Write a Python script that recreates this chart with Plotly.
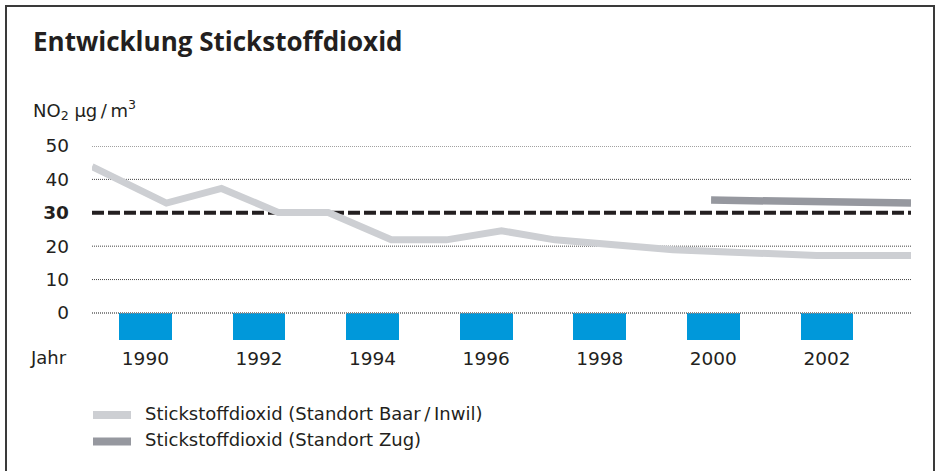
import plotly.graph_objects as go

# ---------------- data ----------------
baar_years = [1989.06, 1990.37, 1991.34, 1992.34, 1993.22, 1994.33, 1995.30,
              1996.27, 1997.21, 1999.29, 2001.82, 2003.48]
baar_values = [43.8, 32.9, 37.3, 30.1, 30.1, 21.9, 21.9, 24.6, 21.9, 18.9, 17.2, 17.2]

zug_years = [1999.96, 2001.58, 2003.48]
zug_values = [33.8, 33.3, 32.9]

limit_years = [1989.06, 2003.48]
limit_values = [30, 30]

marker_years = [1990, 1992, 1994, 1996, 1998, 2000, 2002]
marker_depth = [-8.1, -8.1, -8.1, -8.1, -8.1, -8.1, -8.1]

y_ticks = [0, 10, 20, 30, 40, 50]
y_ticktext = ["0", "10", "20", "<b>30</b>", "40", "50"]
grid_values = [10, 20, 40, 50]

title_text = "Entwicklung Stickstoffdioxid"
unit_text = "NO<sub>2</sub> µg\u2009/\u2009m<sup>3</sup>"
xaxis_label = "Jahr"
legend_names = ["Stickstoffdioxid (Standort Baar\u2009/\u2009Inwil)", "Stickstoffdioxid (Standort Zug)"]

# ---------------- style ----------------
W, H = 939, 471
L, R, T, B = 92, 911, 146, 340
FONT = "DejaVu Sans"
TFONT = "Open Sans"
TXT = "#231f20"
C_BAAR = "#cdcfd3"
C_ZUG = "#96989f"
C_BLUE = "#0098da"


def px(x):
    return (x - L) / (R - L)


def py(y):
    return (B - y) / (B - T)


fig = go.Figure()

fig.add_trace(go.Bar(x=marker_years, y=marker_depth, base=0, width=0.93,
                     marker=dict(color=C_BLUE, line=dict(width=0)),
                     showlegend=False, hoverinfo="skip"))

fig.add_trace(go.Scatter(x=limit_years, y=limit_values, mode="lines",
                         line=dict(color=TXT, width=4, dash="12px,4px"),
                         showlegend=False, hoverinfo="skip"))

fig.add_trace(go.Scatter(x=baar_years, y=baar_values, mode="lines",
                         line=dict(color=C_BAAR, width=7),
                         name=legend_names[0], showlegend=False))

fig.add_trace(go.Scatter(x=zug_years, y=zug_values, mode="lines",
                         line=dict(color=C_ZUG, width=7.5),
                         name=legend_names[1], showlegend=False))

shapes = []
for g in grid_values:
    shapes.append(dict(type="line", xref="paper", x0=0, x1=1, yref="y", y0=g, y1=g,
                       line=dict(color="#444444", width=1, dash="1px,1px"), layer="below"))
shapes.append(dict(type="line", xref="paper", x0=0, x1=1, yref="y", y0=0, y1=0,
                   line=dict(color="#8a8a8a", width=2, dash="1px,1px"), layer="above"))
# outer frame
shapes.append(dict(type="rect", xref="paper", yref="paper",
                   x0=px(6), x1=px(934), y0=py(480), y1=py(6),
                   line=dict(color="#3a3a3a", width=2), fillcolor="rgba(0,0,0,0)",
                   layer="below"))
# legend swatches
for i, c in enumerate([C_BAAR, C_ZUG]):
    yy = 415 + i * 26.5
    shapes.append(dict(type="line", xref="paper", yref="paper",
                       x0=px(93), x1=px(131), y0=py(yy), y1=py(yy),
                       line=dict(color=c, width=8)))

annotations = [
    dict(text="<b>" + title_text + "</b>", xref="paper", yref="paper",
         x=px(31), y=py(41), xanchor="left", yanchor="middle", showarrow=False,
         font=dict(family=TFONT, size=26, color=TXT, weight=800)),
    dict(text=unit_text, xref="paper", yref="paper",
         x=px(31), y=py(110), xanchor="left", yanchor="middle", showarrow=False,
         font=dict(family=FONT, size=18, color=TXT)),
    dict(text=xaxis_label, xref="paper", yref="paper",
         x=px(69), y=py(357), xanchor="right", yanchor="middle", showarrow=False,
         font=dict(family=FONT, size=18, color=TXT)),
]
for i, name in enumerate(legend_names):
    yy = 413 + i * 26.5
    annotations.append(dict(text=name, xref="paper", yref="paper",
                            x=px(143), y=py(yy), xanchor="left", yanchor="middle",
                            showarrow=False, font=dict(family=FONT, size=18, color=TXT)))

fig.update_layout(
    width=W, height=H,
    margin=dict(l=L, r=W - R, t=T, b=H - B, pad=0),
    paper_bgcolor="white", plot_bgcolor="white",
    font=dict(family=FONT, color=TXT),
    showlegend=False,
    bargap=0,
    shapes=shapes,
    annotations=annotations,
    xaxis=dict(range=[1989.06, 2003.48], tickvals=marker_years,
               showgrid=False, zeroline=False, showline=False, ticks="",
               tickfont=dict(family=FONT, size=18.5, color=TXT),
               ticklabelstandoff=5, fixedrange=True),
    yaxis=dict(range=[-8.1, 50], tickvals=y_ticks, ticktext=y_ticktext,
               showgrid=False, zeroline=False, showline=False, ticks="",
               tickfont=dict(family=FONT, size=18.5, color=TXT),
               ticklabelstandoff=22, fixedrange=True),
)

fig.write_html("out.html", config={"displayModeBar": False},
               post_script="document.body.style.margin='0';document.body.style.overflow='hidden';")
